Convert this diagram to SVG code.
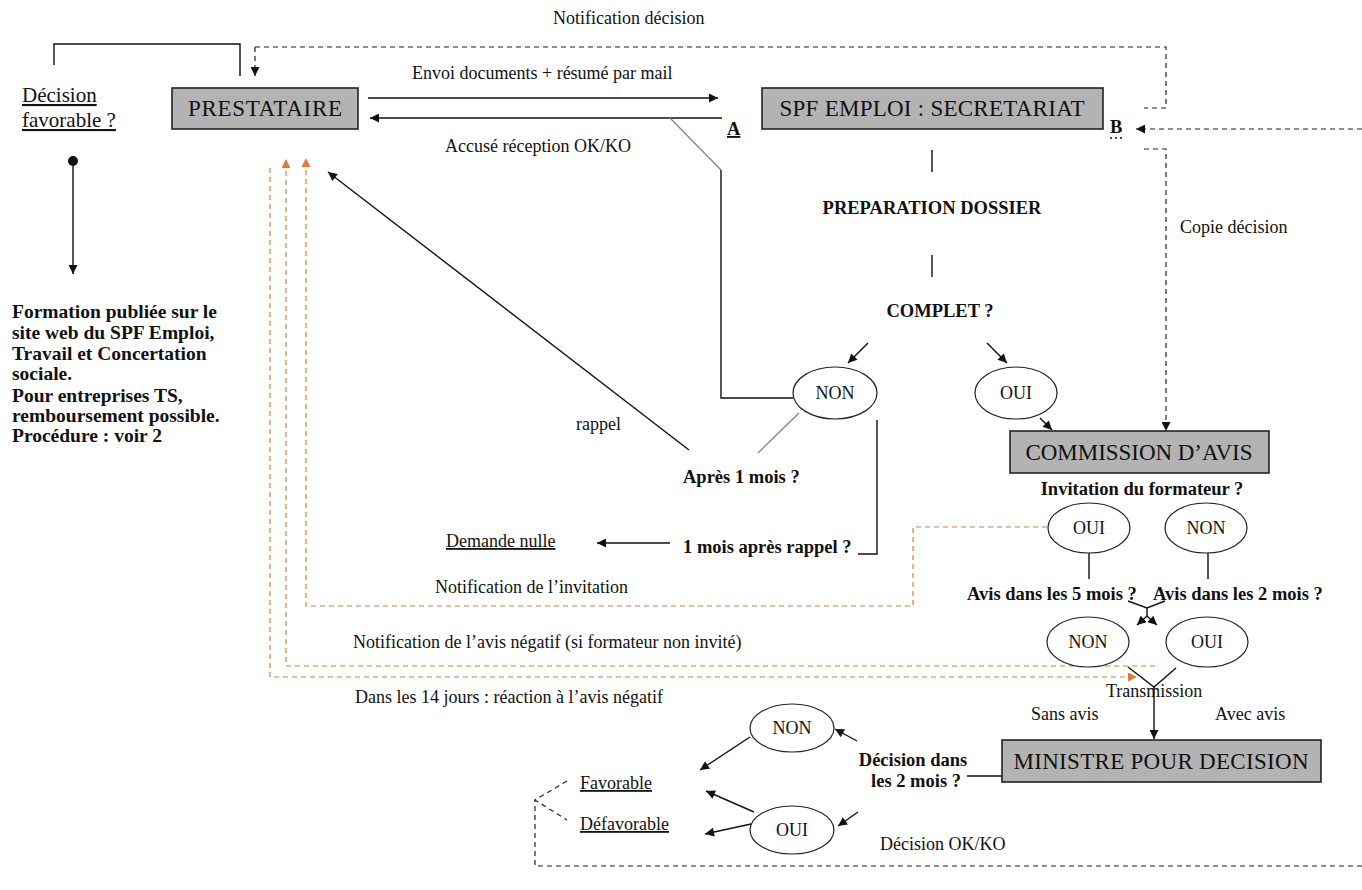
<svg xmlns="http://www.w3.org/2000/svg" width="1362" height="890" viewBox="0 0 1362 890">
<style>
.t{font-family:"Liberation Serif","Times New Roman",serif;font-size:18px;fill:#111}
.b{font-weight:bold;font-size:18.5px}
.lb{font-weight:bold;font-size:19.5px}
.big{font-size:21px}
.bx{font-size:23px;text-anchor:middle}
.m{text-anchor:middle}
.u{text-decoration:underline}
.box{fill:#b3b3b3;stroke:#222;stroke-width:1.6}
.ell{fill:#fff;stroke:#222;stroke-width:1.2}
.ln{stroke:#111;stroke-width:1.4;fill:none}
.gr{stroke:#888;stroke-width:1.4;fill:none}
.ds{stroke:#222;stroke-width:1.2;stroke-dasharray:5 4;fill:none}
.or{stroke:#e07b39;stroke-width:1.2;stroke-dasharray:5 4;fill:none}
</style>
<defs>
<marker id="ah" viewBox="0 0 10 10" refX="10" refY="5" markerWidth="11" markerHeight="9" markerUnits="userSpaceOnUse" orient="auto"><path d="M0,0 L10,5 L0,10 z" fill="#111"/></marker>
<marker id="ao" viewBox="0 0 10 10" refX="10" refY="5" markerWidth="11" markerHeight="9" markerUnits="userSpaceOnUse" orient="auto"><path d="M0,0 L10,5 L0,10 z" fill="#e07b39"/></marker>
</defs>
<rect width="1362" height="890" fill="#fff"/>

<g id="connectors">
<polyline class="ln" points="54,65 54,44 240,44 240,76"/>
<polyline class="ds" points="255,47 1166,47 1166,108 1144,108"/>
<line class="ds" x1="255" y1="47" x2="255" y2="76" marker-end="url(#ah)"/>
<line class="ln" x1="368" y1="98" x2="718" y2="98" marker-end="url(#ah)"/>
<line class="ln" x1="722" y1="118" x2="370" y2="118" marker-end="url(#ah)"/>
<line class="gr" x1="670" y1="118" x2="721" y2="170"/>
<polyline class="ln" points="721,170 721,398 793,398"/>
<line class="ds" x1="1362" y1="129" x2="1136" y2="129" marker-end="url(#ah)"/>
<polyline class="ds" points="1144,149 1166,149 1166,431" marker-end="url(#ah)"/>
<line class="ln" x1="932" y1="150" x2="932" y2="172"/>
<line class="ln" x1="932" y1="255" x2="932" y2="277"/>
<line class="ln" x1="868" y1="343" x2="848" y2="363" marker-end="url(#ah)"/>
<line class="ln" x1="987" y1="343" x2="1007" y2="363" marker-end="url(#ah)"/>
<line class="ln" x1="1040" y1="418" x2="1052" y2="430" marker-end="url(#ah)"/>
<line class="gr" x1="799" y1="413" x2="758" y2="453"/>
<line class="ln" x1="689" y1="450" x2="328" y2="172" marker-end="url(#ah)"/>
<polyline class="ln" points="877,420 877,554 858,554"/>
<line class="ln" x1="670" y1="543" x2="597" y2="543" marker-end="url(#ah)"/>
<line class="ln" x1="73" y1="161" x2="73" y2="274" marker-end="url(#ah)"/>
<circle cx="73" cy="161" r="5" fill="#111"/>
<polyline class="or" points="1047,527 913,527 913,606 306,606 306,158" marker-end="url(#ao)"/>
<polyline class="or" points="1155,666 286,666 286,159" marker-end="url(#ao)"/>
<polyline class="or" points="270,168 270,677 1137,677" marker-end="url(#ao)"/>
<line class="ln" x1="1089" y1="553" x2="1089" y2="579"/>
<line class="ln" x1="1208" y1="553" x2="1208" y2="579"/>
<polyline class="ln" points="1128,601 1147,608 1165,601"/>
<line class="ln" x1="1147" y1="608" x2="1147" y2="616"/>
<line class="ln" x1="1147" y1="616" x2="1137" y2="625" marker-end="url(#ah)"/>
<line class="ln" x1="1147" y1="616" x2="1157" y2="625" marker-end="url(#ah)"/>
<polyline class="ln" points="1128,667 1154,687 1176,668"/>
<line class="ln" x1="1154" y1="687" x2="1154" y2="739" marker-end="url(#ah)"/>
<line class="ln" x1="967" y1="776" x2="1002" y2="776"/>
<line class="ln" x1="857" y1="741" x2="835" y2="729" marker-end="url(#ah)"/>
<line class="ln" x1="858" y1="812" x2="838" y2="826" marker-end="url(#ah)"/>
<line class="ln" x1="750" y1="737" x2="700" y2="770" marker-end="url(#ah)"/>
<line class="ln" x1="754" y1="812" x2="706" y2="791" marker-end="url(#ah)"/>
<line class="ln" x1="751" y1="824" x2="705" y2="834" marker-end="url(#ah)"/>
<polyline class="ds" points="1362,866 535,866 535,800"/>
<polyline class="ds" points="567,781 535,800 567,820"/>
</g>

<g id="n-prestataire"><rect class="box" x="172" y="88" width="186" height="41"/><text class="t bx" x="265" y="116" textLength="154">PRESTATAIRE</text></g>
<g id="n-spf"><rect class="box" x="762" y="88" width="341" height="41"/><text class="t bx" x="932" y="116" textLength="305">SPF EMPLOI : SECRETARIAT</text></g>
<g id="n-commission"><rect class="box" x="1010" y="431" width="259" height="42"/><text class="t bx" x="1139" y="460" textLength="227">COMMISSION D’AVIS</text></g>
<g id="n-ministre"><rect class="box" x="1002" y="740" width="319" height="42"/><text class="t bx" x="1161" y="769" textLength="295">MINISTRE  POUR DECISION</text></g>

<g id="n-non1"><ellipse class="ell" cx="835" cy="393" rx="42" ry="26"/><text class="t m" x="835" y="399">NON</text></g>
<g id="n-oui1"><ellipse class="ell" cx="1016" cy="393" rx="41" ry="26"/><text class="t m" x="1016" y="399">OUI</text></g>
<g id="n-oui2"><ellipse class="ell" cx="1089" cy="528" rx="41" ry="25"/><text class="t m" x="1089" y="534">OUI</text></g>
<g id="n-non2"><ellipse class="ell" cx="1206" cy="528" rx="41" ry="25"/><text class="t m" x="1206" y="534">NON</text></g>
<g id="n-non3"><ellipse class="ell" cx="1088" cy="642" rx="41" ry="25"/><text class="t m" x="1088" y="648">NON</text></g>
<g id="n-oui3"><ellipse class="ell" cx="1207" cy="642" rx="41" ry="25"/><text class="t m" x="1207" y="648">OUI</text></g>
<g id="n-non4"><ellipse class="ell" cx="792" cy="728" rx="42" ry="24"/><text class="t m" x="792" y="734">NON</text></g>
<g id="n-oui4"><ellipse class="ell" cx="792" cy="830" rx="42" ry="24"/><text class="t m" x="792" y="836">OUI</text></g>

<g id="labels">
<text class="t" x="553" y="24">Notification décision</text>
<text class="t u big" x="22" y="102">Décision</text>
<text class="t u big" x="22" y="127">favorable ?</text>
<text class="t" x="412" y="79">Envoi documents + résumé par mail</text>
<text class="t" x="445" y="152">Accusé réception OK/KO</text>
<text class="t b u" x="727" y="135">A</text>
<text class="t b" x="1110" y="133">B</text>
<line x1="1110" y1="138" x2="1124" y2="138" stroke="#111" stroke-width="1.5" stroke-dasharray="2 3"/>
<text class="t" x="1180" y="233">Copie décision</text>
<text class="t b m" x="932" y="214">PREPARATION DOSSIER</text>
<text class="t b m" x="940" y="317">COMPLET ?</text>
<text class="t" x="576" y="430">rappel</text>
<text class="t b" x="683" y="483">Après 1 mois ?</text>
<text class="t b" x="683" y="553">1 mois après rappel ?</text>
<text class="t u" x="446" y="547">Demande nulle</text>
<text class="t" x="435" y="593">Notification de l’invitation</text>
<text class="t" x="353" y="648">Notification de l’avis  négatif (si formateur non invité)</text>
<text class="t" x="355" y="703">Dans les 14 jours :  réaction à l’avis négatif</text>
<text class="t b m" x="1142" y="495">Invitation du formateur ?</text>
<text class="t b" x="967" y="600">Avis dans les 5 mois ?</text>
<text class="t b" x="1153" y="600">Avis dans les 2 mois ?</text>
<text class="t" x="1106" y="697">Transmission</text>
<text class="t" x="1031" y="720">Sans avis</text>
<text class="t" x="1215" y="720">Avec avis</text>
<text class="t b m" x="913" y="766">Décision dans</text>
<text class="t b m" x="916" y="787">les 2 mois ?</text>
<text class="t u" x="580" y="789">Favorable</text>
<text class="t u" x="580" y="830">Défavorable</text>
<text class="t" x="880" y="850">Décision OK/KO</text>
<text class="t lb" x="12" y="318">Formation publiée sur le</text>
<text class="t lb" x="12" y="339">site web du SPF Emploi,</text>
<text class="t lb" x="12" y="360">Travail et Concertation</text>
<text class="t lb" x="12" y="380">sociale.</text>
<text class="t lb" x="12" y="402">Pour entreprises TS,</text>
<text class="t lb" x="12" y="422">remboursement possible.</text>
<text class="t lb" x="12" y="442">Procédure : voir 2</text>
</g>
</svg>
